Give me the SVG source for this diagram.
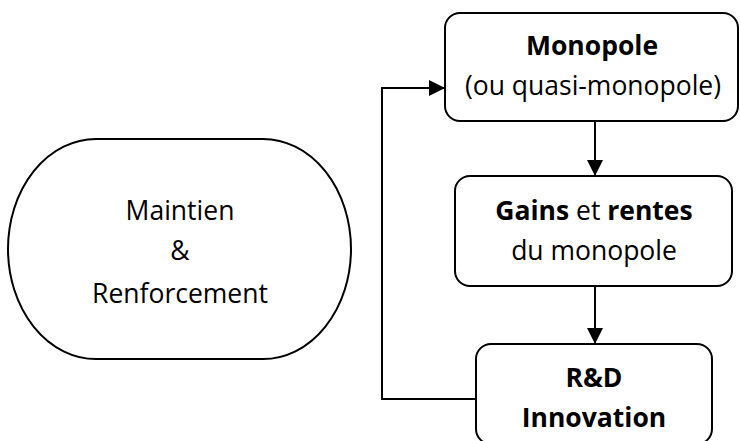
<svg xmlns="http://www.w3.org/2000/svg" width="740" height="441" viewBox="0 0 740 441">
<style>
.box{fill:#fff;stroke:#000;stroke-width:2}
.t{font-family:"Open Sans","Liberation Sans",sans-serif;font-size:26.5px;fill:#000;text-anchor:middle}
.b{font-weight:bold}
.c{fill:none;stroke:#000;stroke-width:2}
</style>
<defs>
<marker id="arr" viewBox="0 0 16 16" refX="16" refY="8" markerWidth="16" markerHeight="16" markerUnits="userSpaceOnUse" orient="auto">
<path d="M0,0 L16,8 L0,16 Z" fill="#000"/>
</marker>
</defs>
<rect width="740" height="441" fill="#fff"/>
<g id="maintien">
<rect class="box" x="8" y="139" width="343" height="220" rx="88" ry="110"/>
<text class="t" x="180" y="220">Maintien</text>
<text class="t" x="180" y="260">&amp;</text>
<text class="t" x="180" y="303">Renforcement</text>
</g>
<g id="monopole">
<rect class="box" x="445" y="13" width="293" height="108" rx="15"/>
<text class="t b" x="592" y="55">Monopole</text>
<text class="t" x="593" y="95">(ou quasi-monopole)</text>
</g>
<g id="gains">
<rect class="box" x="455" y="176" width="277" height="110" rx="15"/>
<text class="t" x="594" y="220"><tspan class="b">Gains</tspan> et <tspan class="b">rentes</tspan></text>
<text class="t" x="594" y="260">du monopole</text>
</g>
<g id="rd">
<rect class="box" x="476" y="344" width="236" height="100" rx="15"/>
<text class="t b" x="594" y="387">R&amp;D</text>
<text class="t b" x="594" y="427">Innovation</text>
</g>
<g id="connectors">
<line class="c" x1="595" y1="121" x2="595" y2="176" marker-end="url(#arr)"/>
<line class="c" x1="595" y1="286" x2="595" y2="344" marker-end="url(#arr)"/>
<polyline class="c" points="476,399 382,399 382,88 445,88" marker-end="url(#arr)"/>
</g>
</svg>
